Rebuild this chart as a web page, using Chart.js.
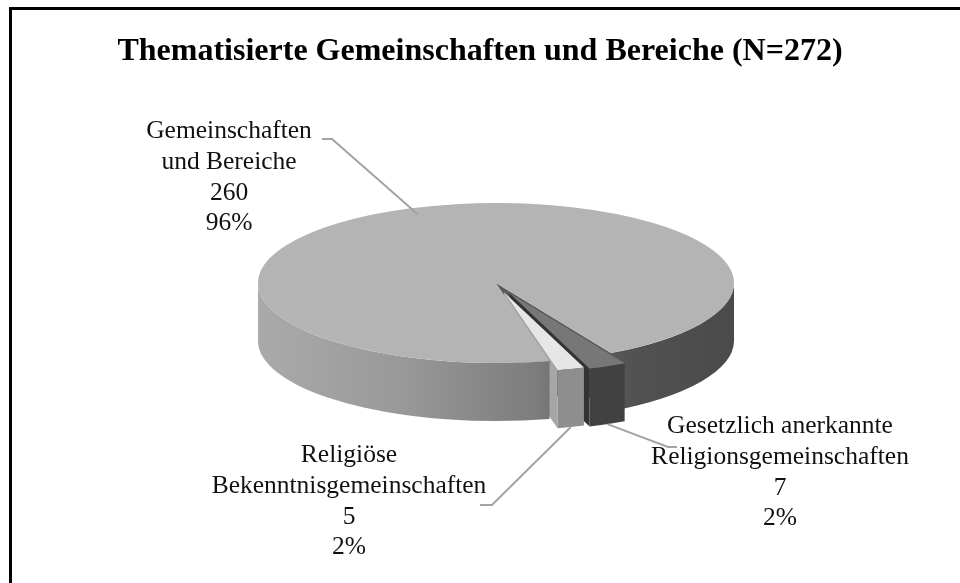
<!DOCTYPE html>
<html>
<head>
<meta charset="utf-8">
<script src="https://cdn.jsdelivr.net/npm/chart.js@4/dist/chart.umd.min.js"></script>
<style>
html, body { margin: 0; padding: 0; background: #fff; }
#marco { position: relative; width: 960px; height: 583px; overflow: hidden; }
#borde { position: absolute; left: 9px; top: 7px; width: 1000px; height: 700px; border-left: 3px solid #000; border-top: 3px solid #000; }
canvas { position: absolute; left: 0; top: 0; }
</style>
</head>
<body>
<div id="marco"><div id="borde"></div><canvas id="miGrafico" width="960" height="583"></canvas></div>
<script>
// datos
const categorias = [
    ['Gemeinschaften', 'und Bereiche'],
    ['Gesetzlich anerkannte', 'Religionsgemeinschaften'],
    ['Religiöse', 'Bekenntnisgemeinschaften']
];
const valores = [260, 7, 5];
const porcentajes = ['96%', '2%', '2%'];

// estilo
const coloresArriba = ['#b4b4b4', '#777777', '#e6e6e6'];
const coloresPared = [null, '#414141', '#8e8e8e'];
const coloresCara = ['#5a5a5a', '#333333', '#a6a6a6'];
const explosion = [0, 0.14, 0.12];
const CX = 496, CY = 283, A = 238, B = 80, PROF = 58;

// posicion de las etiquetas (linea base de la primera linea) y de los codos
const posEtiqueta = [{x: 229, y: 138}, {x: 780, y: 433}, {x: 349, y: 462}];
const codos = [
    [{x: 322, y: 139}, {x: 332, y: 139}],
    [{x: 677, y: 447}, {x: 668, y: 447}],
    [{x: 480, y: 505}, {x: 492, y: 505}]
];

function desplazamiento(arc, i) {
    const m = (arc.startAngle + arc.endAngle) / 2;
    return {dx: A * explosion[i] * Math.cos(m), dy: B * explosion[i] * Math.sin(m)};
}

function rangosVisibles(s, e) {
    const r = [];
    for (let k = -1; k <= 2; k++) {
        const lo = Math.max(s, 2 * Math.PI * k), hi = Math.min(e, 2 * Math.PI * k + Math.PI);
        if (hi > lo) r.push([lo, hi]);
    }
    return r;
}

function caras(ctx, arc, i, x0, y0) {
    [[arc.startAngle, -1], [arc.endAngle, 1]].forEach(function(par) {
        const t = par[0];
        if (par[1] * Math.cos(t) <= 0) return;
        const px = x0 + A * Math.cos(t), py = y0 + B * Math.sin(t);
        ctx.beginPath();
        ctx.moveTo(x0, y0);
        ctx.lineTo(px, py);
        ctx.lineTo(px, py + PROF);
        ctx.lineTo(x0, y0 + PROF);
        ctx.closePath();
        ctx.fillStyle = coloresCara[i];
        ctx.fill();
    });
}

function pared(ctx, r, x0, y0, estilo) {
    ctx.beginPath();
    ctx.ellipse(x0, y0, A, B, 0, r[0], r[1], false);
    ctx.ellipse(x0, y0 + PROF, A, B, 0, r[1], r[0], true);
    ctx.closePath();
    ctx.fillStyle = estilo;
    ctx.fill();
}

function tapa(ctx, arc, x0, y0) {
    // cara superior, dibujada por el propio arco de Chart.js
    ctx.save();
    ctx.translate(x0, y0);
    ctx.scale(A / arc.outerRadius, B / arc.outerRadius);
    ctx.translate(-arc.x, -arc.y);
    arc.draw(ctx);
    ctx.restore();
}

const pie3d = {
    id: 'pie3d',
    beforeDatasetsDraw(chart) {
        const ctx = chart.ctx;
        const arcs = chart.getDatasetMeta(0).data;
        const grad = ctx.createLinearGradient(CX - A, 0, CX + A, 0);
        grad.addColorStop(0, '#aaaaaa');
        grad.addColorStop(0.3, '#999999');
        grad.addColorStop(0.59, '#7c7c7c');
        grad.addColorStop(0.68, '#5e5e5e');
        grad.addColorStop(0.8, '#515151');
        grad.addColorStop(1, '#4a4a4a');

        const grande = arcs[0];
        const rangos = rangosVisibles(grande.startAngle, grande.endAngle);
        // fondo: la parte derecha de la porcion grande
        caras(ctx, grande, 0, CX, CY);
        rangos.forEach(function(r) {
            if (Math.cos((r[0] + r[1]) / 2) > 0) pared(ctx, r, CX, CY, grad);
        });
        // porciones separadas
        for (let i = 1; i < arcs.length; i++) {
            const arc = arcs[i];
            const d = desplazamiento(arc, i);
            const x0 = CX + d.dx, y0 = CY + d.dy;
            caras(ctx, arc, i, x0, y0);
            rangosVisibles(arc.startAngle, arc.endAngle).forEach(function(r) {
                pared(ctx, r, x0, y0, coloresPared[i]);
            });
            tapa(ctx, arc, x0, y0);
        }
        // frente: la parte izquierda y la tapa de la porcion grande
        rangos.forEach(function(r) {
            if (Math.cos((r[0] + r[1]) / 2) <= 0) pared(ctx, r, CX, CY, grad);
        });
        tapa(ctx, grande, CX, CY);
        return false;
    },
    afterDraw(chart) {
        const ctx = chart.ctx;
        const arcs = chart.getDatasetMeta(0).data;
        ctx.save();
        arcs.forEach(function(arc, i) {
            const d = desplazamiento(arc, i);
            const m = (arc.startAngle + arc.endAngle) / 2;
            let ax, ay;
            if (Math.sin(m) > 0) {
                ax = CX + d.dx + A * Math.cos(m);
                ay = CY + d.dy + B * Math.sin(m) + PROF;
            } else {
                ax = CX + d.dx + 0.92 * A * Math.cos(m);
                ay = CY + d.dy + 0.92 * B * Math.sin(m);
            }
            ctx.strokeStyle = '#a3a3a3';
            ctx.lineWidth = 2;
            ctx.beginPath();
            ctx.moveTo(codos[i][0].x, codos[i][0].y);
            ctx.lineTo(codos[i][1].x, codos[i][1].y);
            ctx.lineTo(ax, ay);
            ctx.stroke();

            const lineas = categorias[i].concat([String(valores[i]), porcentajes[i]]);
            ctx.fillStyle = '#111';
            ctx.font = '25.5px "Liberation Serif", serif';
            ctx.textAlign = 'center';
            ctx.textBaseline = 'alphabetic';
            lineas.forEach(function(t, j) {
                ctx.fillText(t, posEtiqueta[i].x, posEtiqueta[i].y + j * 30.8);
            });
        });
        ctx.restore();
    }
};

const graficoTorta = new Chart(document.getElementById('miGrafico'), {
    type: 'pie',
    data: {
        labels: categorias.map(function(c) { return c.join(' '); }),
        datasets: [{
            data: valores,
            backgroundColor: coloresArriba,
            borderWidth: 0
        }]
    },
    options: {
        responsive: false,
        animation: false,
        events: [],
        rotation: 167,
        plugins: {
            legend: { display: false },
            tooltip: { enabled: false },
            title: {
                display: true,
                text: 'Thematisierte Gemeinschaften und Bereiche (N=272)',
                color: '#000',
                font: { family: '"Liberation Serif", serif', size: 32, weight: 'bold' },
                padding: { top: 33, bottom: 10 }
            }
        }
    },
    plugins: [pie3d]
});
</script>
</body>
</html>
